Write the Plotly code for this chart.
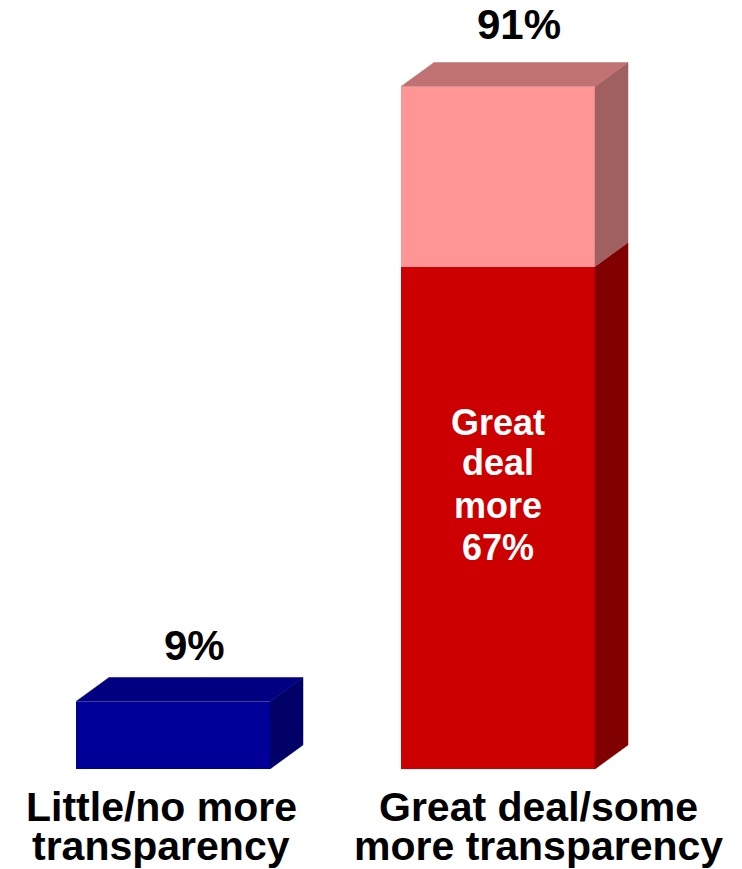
import plotly.graph_objects as go

# ---- data ----
bar_positions = [0, 1]
little_no_more = [9, None]          # blue bar
great_deal_more = [None, 67]        # dark red segment
some_more = [None, 24]              # light red segment (91 - 67)
category_lines = [["Little/no more", "transparency"],
                  ["Great deal/some", "more transparency"]]
inner_label_lines = ["Great", "deal", "more", "67%"]

# ---- style ----
FONT = "Liberation Sans, Arial, Helvetica, sans-serif"
BAR_W = 0.597
DX = 0.1015   # 3D depth in x data units
DY = 3.2      # 3D depth in y data units

blue = dict(front="#000099", top="#000080", side="#000066")
red = dict(front="#CC0000", top="#990000", side="#800000")
pink = dict(front="#FF9595", top="#C07272", side="#A06060")

fig = go.Figure()

series = [
    (little_no_more, blue, "Little/no more"),
    (great_deal_more, red, "Great deal more"),
    (some_more, pink, "Some more"),
]

for vals, col, name in series:
    fig.add_trace(go.Bar(x=bar_positions, y=vals, width=BAR_W, name=name,
                         marker=dict(color=col["front"], line=dict(width=0)),
                         hoverinfo="skip", showlegend=False))

# 3D side and top faces, computed from the same data
base = [0 for _ in bar_positions]
tops = [0 for _ in bar_positions]
for vals, col, name in series:
    for i, v in enumerate(vals):
        if v is not None:
            tops[i] += v

for vals, col, name in series:
    for i, (xc, v) in enumerate(zip(bar_positions, vals)):
        if v is None:
            continue
        b = base[i]
        t = b + v
        xr = xc + BAR_W / 2
        xl = xc - BAR_W / 2
        # side face
        fig.add_trace(go.Scatter(
            x=[xr, xr + DX, xr + DX, xr, xr],
            y=[b, b + DY, t + DY, t, b],
            fill="toself", fillcolor=col["side"], mode="lines",
            line=dict(width=0.5, color=col["side"]),
            hoverinfo="skip", showlegend=False))
        # top face only on the topmost segment
        if abs(t - tops[i]) < 1e-9:
            fig.add_trace(go.Scatter(
                x=[xl, xl + DX, xr + DX, xr, xl],
                y=[t, t + DY, t + DY, t, t],
                fill="toself", fillcolor=col["top"], mode="lines",
                line=dict(width=0.5, color=col["top"]),
                hoverinfo="skip", showlegend=False))
        base[i] = t

annotations = []
# value labels above the bars
value_shift = [56, 62]
for i, xc in enumerate(bar_positions):
    annotations.append(dict(
        x=xc, y=tops[i], xref="x", yref="y",
        text=f"<b>{tops[i]}%</b>", showarrow=False,
        xshift=21, yshift=value_shift[i], yanchor="middle",
        font=dict(family=FONT, size=42, color="black")))

# inner label of the dark red segment
inner_shifts = [347, 307, 264, 222]
for line, ys in zip(inner_label_lines, inner_shifts):
    annotations.append(dict(
        x=bar_positions[1], y=0, xref="x", yref="y",
        text=f"<b>{line}</b>", showarrow=False,
        yshift=ys, yanchor="middle",
        font=dict(family=FONT, size=36, color="white")))

# category labels beneath
cat_xshift = [-12, 40]
cat_yshift = [-38, -77]
for i, xc in enumerate(bar_positions):
    for j, line in enumerate(category_lines[i]):
        annotations.append(dict(
            x=xc, y=0, xref="x", yref="y",
            text=f"<b>{line}</b>", showarrow=False,
            xshift=cat_xshift[i], yshift=cat_yshift[j], yanchor="middle",
            font=dict(family=FONT, size=41, color="black")))

fig.update_layout(
    width=742, height=869,
    margin=dict(l=0, r=0, t=19, b=100),
    barmode="stack",
    plot_bgcolor="white", paper_bgcolor="white",
    xaxis=dict(range=[-173 / 325, (742 - 173) / 325], visible=False,
               showgrid=False, zeroline=False, fixedrange=True),
    yaxis=dict(range=[0, 100], visible=False, showgrid=False,
               zeroline=False, fixedrange=True),
    annotations=annotations,
    showlegend=False,
)

fig.write_html("out.html",
               config={"displayModeBar": False, "staticPlot": True},
               post_script="document.body.style.margin='0px';"
                           "document.body.style.overflow='hidden';")
